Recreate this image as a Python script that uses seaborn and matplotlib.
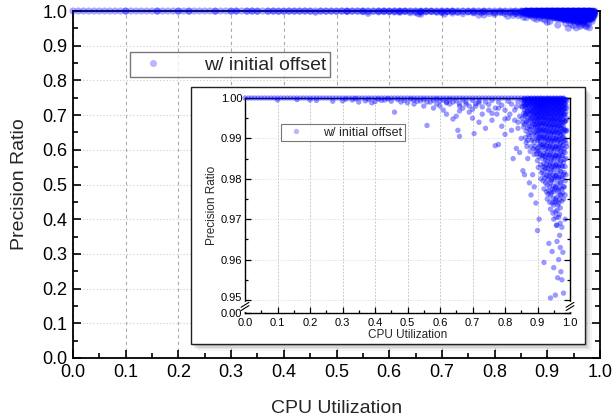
import matplotlib
matplotlib.use("Agg")
import matplotlib.pyplot as plt
import matplotlib.transforms as mtransforms
import seaborn as sns
import pandas as pd
from matplotlib.ticker import MultipleLocator, FixedLocator, FixedFormatter
from matplotlib.patches import Rectangle

# ---------------- data ----------------
# points lying on precision ratio 1.0
top_row_x = [0.00, 0.01, 0.02, 0.03, 0.04, 0.05, 0.06, 0.07, 0.08, 0.09,
             0.10, 0.11, 0.12, 0.13, 0.14, 0.15, 0.16, 0.17, 0.18, 0.19,
             0.20, 0.21, 0.22, 0.23, 0.24, 0.25, 0.26, 0.27, 0.28, 0.29,
             0.30, 0.31, 0.32, 0.33, 0.34, 0.35, 0.36, 0.37, 0.38, 0.39,
             0.40, 0.41, 0.42, 0.43, 0.44, 0.45, 0.46, 0.47, 0.48, 0.49,
             0.50, 0.51, 0.52, 0.53, 0.54, 0.55, 0.56, 0.57, 0.58, 0.59,
             0.60, 0.61, 0.62, 0.63, 0.64, 0.65, 0.66, 0.67, 0.68, 0.69,
             0.70, 0.71, 0.72, 0.73, 0.74, 0.75, 0.76, 0.77, 0.78, 0.79,
             0.80, 0.81, 0.82, 0.83, 0.84, 0.85, 0.86, 0.87, 0.88, 0.89,
             0.90, 0.91, 0.92, 0.93, 0.94, 0.95, 0.96, 0.97, 0.98]
top_row_y = [1.0] * len(top_row_x)

# sparse points slightly below 1.0 at low / medium utilization
sparse_x = [0.10, 0.16, 0.20, 0.22, 0.27, 0.30, 0.33, 0.35, 0.37, 0.39,
            0.40, 0.42, 0.45, 0.46, 0.48, 0.50, 0.52, 0.53, 0.55, 0.56,
            0.57, 0.58, 0.59, 0.60, 0.61, 0.62, 0.63, 0.64, 0.65, 0.655,
            0.66, 0.67, 0.68, 0.69, 0.70, 0.705, 0.71, 0.72, 0.73, 0.74,
            0.75, 0.76, 0.77, 0.775, 0.78, 0.79, 0.80, 0.81, 0.82, 0.825,
            0.83, 0.835, 0.84, 0.845, 0.85, 0.855, 0.86, 0.865, 0.87, 0.875,
            0.88, 0.885, 0.89, 0.895, 0.90, 0.905, 0.62, 0.66, 0.72, 0.78]
sparse_y = [0.9995, 0.9996, 0.9995, 0.9994, 0.9992, 0.9993, 0.9995, 0.9990, 0.9993, 0.9988,
            0.9991, 0.9994, 0.9992, 0.9965, 0.9990, 0.9988, 0.9985, 0.9992, 0.9980, 0.9932,
            0.9990, 0.9975, 0.9985, 0.9980, 0.9970, 0.9960, 0.9985, 0.9948, 0.9955, 0.9920,
            0.9905, 0.9975, 0.9985, 0.9965, 0.9950, 0.9912, 0.9980, 0.9940, 0.9960, 0.9925,
            0.9970, 0.9945, 0.9882, 0.9960, 0.9885, 0.9930, 0.9910, 0.9950, 0.9920, 0.9850,
            0.9970, 0.9875, 0.9940, 0.9865, 0.9900, 0.9820, 0.9810, 0.9890, 0.9850, 0.9790,
            0.9760, 0.9810, 0.9780, 0.9740, 0.9672, 0.9700, 0.9990, 0.9980, 0.9988, 0.9975]

# more points just under the 1.0 row at medium utilization
upper_x = [0.31, 0.34, 0.38, 0.41, 0.43, 0.44, 0.47, 0.49, 0.51, 0.52,
           0.54, 0.55, 0.56, 0.58, 0.59, 0.60, 0.61, 0.62, 0.63, 0.64,
           0.65, 0.66, 0.67, 0.68, 0.69, 0.70, 0.71, 0.72, 0.73, 0.74,
           0.75, 0.76, 0.77, 0.78, 0.79, 0.80, 0.81, 0.815, 0.82, 0.83,
           0.835, 0.84, 0.845, 0.85, 0.855, 0.84, 0.80, 0.76, 0.70, 0.66]
upper_y = [0.9997, 0.9998, 0.9996, 0.9997, 0.9995, 0.9998, 0.9996, 0.9994, 0.9997, 0.9995,
           0.9993, 0.9996, 0.9990, 0.9994, 0.9997, 0.9992, 0.9995, 0.9988, 0.9996, 0.9990,
           0.9993, 0.9986, 0.9995, 0.9990, 0.9980, 0.9994, 0.9986, 0.9992, 0.9978, 0.9990,
           0.9984, 0.9994, 0.9975, 0.9990, 0.9982, 0.9970, 0.9992, 0.9960, 0.9985, 0.9945,
           0.9978, 0.9990, 0.9955, 0.9980, 0.9940, 0.9925, 0.9948, 0.9962, 0.9972, 0.9968]

# dense cloud at high utilization: (cpu utilization, list of precision ratios)
dense_cols_a = [
    (0.860, [0.9998, 0.9990, 0.9982, 0.9970, 0.9955, 0.9935]),
    (0.865, [0.9996, 0.9985, 0.9975, 0.9962, 0.9940, 0.9918]),
    (0.870, [0.9999, 0.9992, 0.9980, 0.9968, 0.9950, 0.9925, 0.9895]),
    (0.875, [0.9997, 0.9987, 0.9973, 0.9958, 0.9930, 0.9905]),
    (0.880, [0.9998, 0.9991, 0.9983, 0.9972, 0.9960, 0.9945, 0.9915, 0.9880]),
    (0.885, [0.9996, 0.9988, 0.9978, 0.9965, 0.9952, 0.9938, 0.9900]),
    (0.890, [0.9999, 0.9993, 0.9985, 0.9976, 0.9966, 0.9955, 0.9942, 0.9925, 0.9890, 0.9860]),
    (0.895, [0.9997, 0.9989, 0.9980, 0.9970, 0.9958, 0.9944, 0.9928, 0.9908, 0.9870]),
]
dense_cols_b = [
    (0.900, [0.9998, 0.9992, 0.9986, 0.9978, 0.9968, 0.9957, 0.9945, 0.9930, 0.9912, 0.9895, 0.9875, 0.9845]),
    (0.905, [0.9996, 0.9990, 0.9982, 0.9973, 0.9962, 0.9950, 0.9936, 0.9920, 0.9902, 0.9880, 0.9855]),
    (0.910, [0.9999, 0.9993, 0.9986, 0.9977, 0.9967, 0.9955, 0.9941, 0.9926, 0.9910, 0.9892, 0.9870, 0.9835, 0.9800]),
    (0.915, [0.9997, 0.9989, 0.9980, 0.9970, 0.9958, 0.9946, 0.9932, 0.9916, 0.9898, 0.9878, 0.9850, 0.9820]),
    (0.920, [0.9998, 0.9992, 0.9984, 0.9975, 0.9964, 0.9952, 0.9938, 0.9922, 0.9905, 0.9885, 0.9862, 0.9838, 0.9810, 0.9775]),
    (0.925, [0.9996, 0.9988, 0.9979, 0.9969, 0.9957, 0.9944, 0.9929, 0.9912, 0.9893, 0.9872, 0.9848, 0.9825, 0.9790]),
    (0.930, [0.9999, 0.9993, 0.9985, 0.9976, 0.9966, 0.9954, 0.9940, 0.9925, 0.9908, 0.9890, 0.9868, 0.9845, 0.9818, 0.9785, 0.9750]),
    (0.935, [0.9997, 0.9990, 0.9981, 0.9971, 0.9960, 0.9947, 0.9933, 0.9917, 0.9899, 0.9880, 0.9858, 0.9832, 0.9805, 0.9770]),
]
dense_cols_c = [
    (0.940, [0.9998, 0.9992, 0.9984, 0.9974, 0.9963, 0.9951, 0.9937, 0.9921, 0.9903, 0.9884, 0.9862, 0.9840, 0.9815, 0.9790, 0.9760, 0.9725]),
    (0.945, [0.9996, 0.9989, 0.9980, 0.9970, 0.9958, 0.9945, 0.9930, 0.9914, 0.9895, 0.9875, 0.9852, 0.9828, 0.9800, 0.9772, 0.9740]),
    (0.950, [0.9999, 0.9993, 0.9986, 0.9977, 0.9967, 0.9955, 0.9942, 0.9927, 0.9910, 0.9892, 0.9870, 0.9848, 0.9823, 0.9798, 0.9768, 0.9735, 0.9700]),
    (0.955, [0.9997, 0.9990, 0.9982, 0.9972, 0.9961, 0.9948, 0.9934, 0.9918, 0.9900, 0.9880, 0.9858, 0.9835, 0.9808, 0.9780, 0.9750, 0.9718]),
    (0.960, [0.9998, 0.9992, 0.9984, 0.9975, 0.9964, 0.9952, 0.9938, 0.9922, 0.9905, 0.9886, 0.9865, 0.9842, 0.9816, 0.9788, 0.9755, 0.9722, 0.9685]),
    (0.965, [0.9996, 0.9989, 0.9980, 0.9970, 0.9959, 0.9946, 0.9931, 0.9915, 0.9897, 0.9877, 0.9855, 0.9830, 0.9803, 0.9772, 0.9740, 0.9705]),
    (0.970, [0.9999, 0.9993, 0.9985, 0.9976, 0.9965, 0.9953, 0.9939, 0.9924, 0.9907, 0.9888, 0.9867, 0.9844, 0.9818, 0.9790, 0.9760, 0.9728, 0.9690]),
    (0.975, [0.9997, 0.9990, 0.9981, 0.9971, 0.9960, 0.9947, 0.9933, 0.9917, 0.9899, 0.9879, 0.9857, 0.9832, 0.9805, 0.9775, 0.9745]),
    (0.980, [0.9998, 0.9991, 0.9982, 0.9972, 0.9960, 0.9946, 0.9930, 0.9912, 0.9892, 0.9868, 0.9840, 0.9810, 0.9780, 0.9750]),
    (0.985, [0.9996, 0.9987, 0.9975, 0.9960, 0.9942, 0.9920, 0.9895, 0.9865, 0.9830, 0.9795, 0.9760]),
    (0.990, [0.9993, 0.9975, 0.9950, 0.9920, 0.9880]),
]
dense_cols_d = [
    (0.8525, [0.9994, 0.9978, 0.9950]),
    (0.8575, [0.9997, 0.9986, 0.9962, 0.9928]),
    (0.8625, [0.9993, 0.9979, 0.9958, 0.9902]),
    (0.8675, [0.9996, 0.9984, 0.9966, 0.9944, 0.9880]),
    (0.8725, [0.9994, 0.9981, 0.9961, 0.9937, 0.9910]),
    (0.8775, [0.9998, 0.9986, 0.9969, 0.9949, 0.9922, 0.9868]),
    (0.8825, [0.9993, 0.9982, 0.9967, 0.9949, 0.9928, 0.9895]),
    (0.8875, [0.9997, 0.9987, 0.9973, 0.9960, 0.9935, 0.9912, 0.9875]),
    (0.8925, [0.9994, 0.9983, 0.9972, 0.9961, 0.9948, 0.9934, 0.9916, 0.9880]),
    (0.8975, [0.9998, 0.9987, 0.9976, 0.9963, 0.9951, 0.9936, 0.9920, 0.9900, 0.9862]),
    (0.9025, [0.9995, 0.9988, 0.9980, 0.9971, 0.9960, 0.9948, 0.9933, 0.9917, 0.9898, 0.9868, 0.9828]),
    (0.9075, [0.9998, 0.9991, 0.9983, 0.9975, 0.9965, 0.9953, 0.9939, 0.9923, 0.9906, 0.9886, 0.9862]),
    (0.9125, [0.9995, 0.9988, 0.9981, 0.9972, 0.9962, 0.9950, 0.9936, 0.9921, 0.9904, 0.9884, 0.9858, 0.9815]),
    (0.9175, [0.9998, 0.9991, 0.9983, 0.9974, 0.9963, 0.9951, 0.9937, 0.9920, 0.9902, 0.9882, 0.9858, 0.9830, 0.9795]),
    (0.9225, [0.9995, 0.9988, 0.9980, 0.9971, 0.9960, 0.9948, 0.9934, 0.9918, 0.9900, 0.9879, 0.9855, 0.9828, 0.9802]),
    (0.9275, [0.9998, 0.9991, 0.9983, 0.9973, 0.9962, 0.9950, 0.9936, 0.9920, 0.9902, 0.9882, 0.9860, 0.9836, 0.9808, 0.9768]),
    (0.9325, [0.9995, 0.9988, 0.9979, 0.9969, 0.9958, 0.9945, 0.9930, 0.9913, 0.9895, 0.9875, 0.9852, 0.9826, 0.9798, 0.9762]),
    (0.9375, [0.9998, 0.9991, 0.9982, 0.9972, 0.9961, 0.9948, 0.9934, 0.9918, 0.9900, 0.9880, 0.9858, 0.9834, 0.9808, 0.9780, 0.9742]),
    (0.9425, [0.9995, 0.9987, 0.9978, 0.9967, 0.9955, 0.9942, 0.9927, 0.9910, 0.9891, 0.9870, 0.9846, 0.9822, 0.9795, 0.9765]),
    (0.9475, [0.9998, 0.9990, 0.9981, 0.9971, 0.9960, 0.9948, 0.9934, 0.9918, 0.9900, 0.9880, 0.9858, 0.9834, 0.9810, 0.9782, 0.9752, 0.9715]),
    (0.9525, [0.9995, 0.9988, 0.9979, 0.9969, 0.9957, 0.9944, 0.9930, 0.9914, 0.9896, 0.9876, 0.9854, 0.9830, 0.9804, 0.9775, 0.9742]),
    (0.9575, [0.9998, 0.9991, 0.9982, 0.9972, 0.9961, 0.9948, 0.9934, 0.9918, 0.9900, 0.9880, 0.9858, 0.9834, 0.9808, 0.9778, 0.9745, 0.9705]),
    (0.9625, [0.9995, 0.9987, 0.9978, 0.9968, 0.9956, 0.9943, 0.9928, 0.9912, 0.9894, 0.9874, 0.9852, 0.9828, 0.9800, 0.9768, 0.9735]),
    (0.9675, [0.9998, 0.9990, 0.9981, 0.9971, 0.9960, 0.9947, 0.9932, 0.9916, 0.9898, 0.9878, 0.9856, 0.9832, 0.9806, 0.9778, 0.9748, 0.9712]),
    (0.9725, [0.9995, 0.9987, 0.9978, 0.9968, 0.9956, 0.9942, 0.9927, 0.9910, 0.9890, 0.9868, 0.9844, 0.9818, 0.9790, 0.9760]),
    (0.9775, [0.9998, 0.9989, 0.9979, 0.9967, 0.9954, 0.9939, 0.9922, 0.9903, 0.9882, 0.9858, 0.9830, 0.9800, 0.9765]),
    (0.9825, [0.9994, 0.9984, 0.9972, 0.9958, 0.9941, 0.9922, 0.9900, 0.9875, 0.9848, 0.9815, 0.9780]),
    (0.9875, [0.9996, 0.9982, 0.9965, 0.9944, 0.9918, 0.9888, 0.9850, 0.9810]),
]

# lowest tail points
tail_x = [0.920, 0.935, 0.940, 0.945, 0.950, 0.955, 0.960, 0.962, 0.965, 0.970,
          0.972, 0.975, 0.978, 0.980, 0.968, 0.958, 0.985, 0.975]
tail_y = [0.9593, 0.9640, 0.9505, 0.9620, 0.9580, 0.9512, 0.9645, 0.9555, 0.9600, 0.9630,
          0.9570, 0.9550, 0.9618, 0.9517, 0.9660, 0.9685, 0.9700, 0.9680]

x_ticks = [0.0, 0.1, 0.2, 0.3, 0.4, 0.5, 0.6, 0.7, 0.8, 0.9, 1.0]
main_y_ticks = [0.0, 0.1, 0.2, 0.3, 0.4, 0.5, 0.6, 0.7, 0.8, 0.9, 1.0]
inset_y_ticks = [0.95, 0.96, 0.97, 0.98, 0.99, 1.00]
series_label = "w/ initial offset"

# ---------------- assemble ----------------
xs = list(top_row_x) + list(sparse_x) + list(upper_x) + list(tail_x)
ys = list(top_row_y) + list(sparse_y) + list(upper_y) + list(tail_y)
for cols in (dense_cols_a, dense_cols_b, dense_cols_c, dense_cols_d):
    for cx, cys in cols:
        xs += [cx] * len(cys)
        ys += cys
df = pd.DataFrame({"cpu": xs, "ratio": ys, "series": series_label})

sns.set_style("ticks")
plt.rcParams["font.family"] = ["Liberation Sans", "DejaVu Sans"]

fig = plt.figure(figsize=(6.16, 4.16), dpi=100)
W, H = 616, 416


def fig_rect(l, t, r, b):
    return [l / W, 1 - b / H, (r - l) / W, (b - t) / H]


ax = fig.add_axes(fig_rect(73, 11, 600, 358))
ax.set_zorder(0)
sns.scatterplot(data=df, x="cpu", y="ratio", hue="series", palette=["#0000ff"],
                s=26, alpha=0.35, edgecolor="none", ax=ax, clip_on=False, zorder=3)
ax.set_xlim(0, 1.0)
ax.set_ylim(0, 1.0)
ax.xaxis.set_major_locator(FixedLocator(x_ticks))
ax.yaxis.set_major_locator(FixedLocator(main_y_ticks))
ax.xaxis.set_minor_locator(MultipleLocator(0.05))
ax.yaxis.set_minor_locator(MultipleLocator(0.05))
ax.set_xticklabels([f"{v:.1f}" for v in x_ticks])
ax.set_yticklabels([f"{v:.1f}" for v in main_y_ticks])
ax.tick_params(which="both", direction="in", right=True, top=False, width=1.2, labelsize=13,
               colors="black")
ax.tick_params(which="major", length=6, pad=4)
ax.tick_params(which="minor", length=3.5)
ax.grid(axis="x", which="major", linestyle=(0, (3, 3)), color="#aaaaaa", linewidth=0.8)
ax.grid(axis="y", which="major", linestyle=(0, (1, 2)), color="#cccccc", linewidth=0.8)
for sp in ax.spines.values():
    sp.set_linewidth(1.3)
    sp.set_color("black")
ax.set_xlabel("CPU Utilization", fontsize=14, labelpad=14)
ax.set_ylabel("Precision Ratio", fontsize=14, labelpad=10)
leg = ax.legend(loc="upper left", bbox_to_anchor=(130 / W, 1 - 52 / H),
                bbox_transform=fig.transFigure, fontsize=14, frameon=True,
                fancybox=False, edgecolor="#555555", borderpad=0.2,
                handletextpad=1.6, markerscale=1.0, borderaxespad=0)
leg.get_frame().set_linewidth(1.0)
for h in leg.legend_handles:
    h.set_alpha(0.28)

# inset frame with drop shadow
for i, a in enumerate([0.10, 0.08, 0.06, 0.04]):
    off = 2 + i * 1.5
    fig.add_artist(Rectangle(((191 + off) / W, 1 - (344 + off) / H), (585 - 191) / W, (344 - 87) / H,
                             transform=fig.transFigure, facecolor="black", edgecolor="none",
                             alpha=a, zorder=1))
fig.add_artist(Rectangle((191 / W, 1 - 344 / H), (585 - 191) / W, (344 - 87) / H,
                         transform=fig.transFigure, facecolor="white", edgecolor="#222222",
                         linewidth=1.0, zorder=1.1))

y_lo = 0.94678
axi = fig.add_axes(fig_rect(245, 98, 570, 313))
axi.set_zorder(2)
axi.patch.set_facecolor("white")
sns.scatterplot(data=df, x="cpu", y="ratio", hue="series", palette=["#0000ff"],
                s=15, alpha=0.4, edgecolor="none", ax=axi, clip_on=False, zorder=3)
axi.set_xlim(0, 1.0)
axi.set_ylim(y_lo, 1.0)
axi.xaxis.set_major_locator(FixedLocator(x_ticks))
axi.xaxis.set_minor_locator(MultipleLocator(0.05))
axi.yaxis.set_major_locator(FixedLocator(inset_y_ticks + [y_lo]))
axi.yaxis.set_major_formatter(FixedFormatter(["0.95", "0.96", "0.97", "0.98", "0.99", "1.00", "0.00"]))
axi.yaxis.set_minor_locator(FixedLocator([0.955, 0.965, 0.975, 0.985, 0.995]))
axi.set_xticklabels([f"{v:.1f}" for v in x_ticks])
axi.tick_params(which="both", direction="in", right=True, top=False, width=0.9, labelsize=8,
                colors="black")
axi.tick_params(which="major", length=4, pad=2)
axi.tick_params(axis="x", which="major", pad=3.5)
axi.tick_params(which="minor", length=2.5)
axi.grid(axis="x", which="major", linestyle=(0, (2, 2)), color="#bbbbbb", linewidth=0.6)
axi.grid(axis="y", which="major", linestyle=(0, (1, 2)), color="#cccccc", linewidth=0.6)
for sp in axi.spines.values():
    sp.set_linewidth(1.0)
    sp.set_color("black")
axi.set_xlabel("CPU Utilization", fontsize=8.5, labelpad=1)
axi.set_ylabel("Precision Ratio", fontsize=8.5, labelpad=2)
legi = axi.legend(loc="upper left", bbox_to_anchor=(281 / W, 1 - 124 / H),
                  bbox_transform=fig.transFigure, fontsize=9, frameon=True,
                  fancybox=False, edgecolor="#555555", borderpad=0.2,
                  handletextpad=1.2, borderaxespad=0)
legi.get_frame().set_linewidth(0.8)
for h in legi.legend_handles:
    h.set_alpha(0.28)

# nudge the "0.95" label up slightly so it clears "0.00", as in the reference
for lbl in axi.get_yticklabels():
    if lbl.get_text() == "0.95":
        lbl.set_transform(lbl.get_transform() + mtransforms.ScaledTranslation(0, 2 / 72, fig.dpi_scale_trans))

# axis break marks on the inset y axis
ytr = axi.get_yaxis_transform()
yb = 0.9484
for xa in (0.0, 1.0):
    axi.plot([xa, xa], [0.9475, 0.9493], transform=ytr, color="white", lw=2.5,
             clip_on=False, zorder=5)
    for dy in (-0.0004, 0.0004):
        axi.plot([xa - 0.012, xa + 0.012], [yb + dy - 0.0006, yb + dy + 0.0006],
                 transform=ytr, color="black", lw=0.8, clip_on=False, zorder=6)

fig.savefig("out.png", dpi=100)
